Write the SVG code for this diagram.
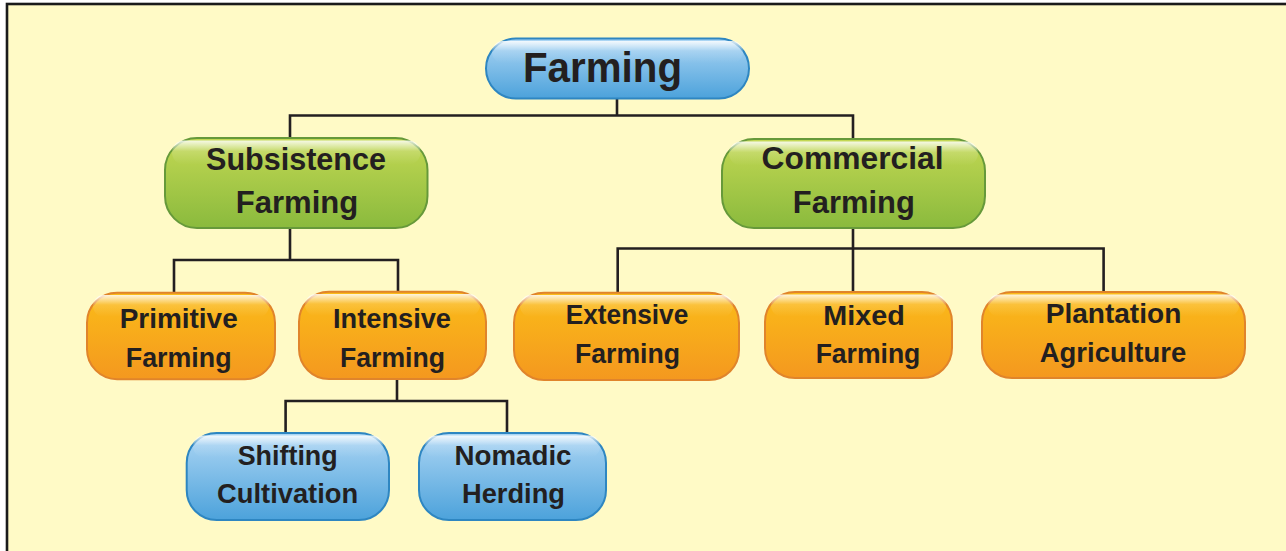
<svg xmlns="http://www.w3.org/2000/svg" width="1286" height="551" viewBox="0 0 1286 551">
<defs>
<linearGradient id="gBlue" x1="0" y1="0" x2="0" y2="1"><stop offset="0" stop-color="#ADD6F4"/><stop offset="1" stop-color="#4CA2DB"/></linearGradient>
<linearGradient id="gGreen" x1="0" y1="0" x2="0" y2="1"><stop offset="0" stop-color="#C3D853"/><stop offset="1" stop-color="#8ABA3D"/></linearGradient>
<linearGradient id="gOrange" x1="0" y1="0" x2="0" y2="1"><stop offset="0" stop-color="#FBBC18"/><stop offset="1" stop-color="#F4981F"/></linearGradient>
<linearGradient id="gGloss" x1="0" y1="0" x2="0" y2="1"><stop offset="0" stop-color="#FFFFFF" stop-opacity="0.85"/><stop offset="0.45" stop-color="#FFFFFF" stop-opacity="0.15"/><stop offset="1" stop-color="#FFFFFF" stop-opacity="0"/></linearGradient>
</defs>
<style>
.blue{fill:url(#gBlue);stroke:#2E86C1;stroke-width:2}
.green{fill:url(#gGreen);stroke:#66993A;stroke-width:2}
.orange{fill:url(#gOrange);stroke:#E0842B;stroke-width:2}
.gloss{fill:url(#gGloss);stroke:none}
text{font-family:"Liberation Sans",Arial,sans-serif;font-weight:bold;fill:#231F20;text-anchor:middle}
.t1{font-size:42px}
.t2{font-size:30.5px}
.t3{font-size:28px}
.conn{fill:none;stroke:#231F20;stroke-width:2.6}
</style>
<rect x="0" y="0" width="1286" height="551" fill="#FFFFFF"/>
<rect x="7" y="4" width="1300" height="600" fill="#FFFAC6" stroke="#1A1A1A" stroke-width="2.6"/>
<g id="connectors" class="conn">
<path d="M617,98 V115.5 M290,138 V115.5 H853 V139"/>
<path d="M290,228 V260 M174,293 V260 H398 V292"/>
<path d="M853,228 V292 M617.7,293 V248.5 H1103.6 V292"/>
<path d="M397,379 V401 M285.6,434 V401 H507 V434"/>
</g>
<g id="farming">
<rect class="blue" x="486" y="38.5" width="263" height="60" rx="30"/>
<rect class="gloss" x="492" y="41" width="251" height="22" rx="11"/>
<text class="t1" x="602.5" y="82" textLength="159" lengthAdjust="spacingAndGlyphs">Farming</text>
</g>
<g id="subsistence">
<rect class="green" x="165" y="138" width="262.5" height="90" rx="32"/>
<rect class="gloss" x="172" y="140.5" width="248.5" height="24" rx="12"/>
<text class="t2" x="296" y="170" textLength="180" lengthAdjust="spacingAndGlyphs">Subsistence</text>
<text class="t2" x="297" y="213" textLength="122.6" lengthAdjust="spacingAndGlyphs">Farming</text>
</g>
<g id="commercial">
<rect class="green" x="722" y="139" width="263" height="89" rx="32"/>
<rect class="gloss" x="729" y="141.5" width="249" height="24" rx="12"/>
<text class="t2" x="852.6" y="169" textLength="182" lengthAdjust="spacingAndGlyphs">Commercial</text>
<text class="t2" x="853.8" y="213" textLength="122" lengthAdjust="spacingAndGlyphs">Farming</text>
</g>
<g id="primitive">
<rect class="orange" x="87" y="292.7" width="188" height="86.5" rx="30"/>
<rect class="gloss" x="93" y="295" width="176" height="22" rx="11"/>
<text class="t3" x="178.7" y="328" textLength="118" lengthAdjust="spacingAndGlyphs">Primitive</text>
<text class="t3" x="178.7" y="367" textLength="105.7" lengthAdjust="spacingAndGlyphs">Farming</text>
</g>
<g id="intensive">
<rect class="orange" x="299" y="291.7" width="187" height="87.3" rx="30"/>
<rect class="gloss" x="305" y="294" width="175" height="22" rx="11"/>
<text class="t3" x="392" y="328" textLength="118" lengthAdjust="spacingAndGlyphs">Intensive</text>
<text class="t3" x="392.5" y="367" textLength="105" lengthAdjust="spacingAndGlyphs">Farming</text>
</g>
<g id="extensive">
<rect class="orange" x="514" y="292.7" width="225" height="87.3" rx="30"/>
<rect class="gloss" x="520" y="295" width="213" height="22" rx="11"/>
<text class="t3" x="627" y="324" textLength="122.6" lengthAdjust="spacingAndGlyphs">Extensive</text>
<text class="t3" x="627.5" y="363" textLength="105" lengthAdjust="spacingAndGlyphs">Farming</text>
</g>
<g id="mixed">
<rect class="orange" x="765" y="292" width="187" height="86" rx="30"/>
<rect class="gloss" x="771" y="294.5" width="175" height="22" rx="11"/>
<text class="t3" x="864" y="325" textLength="81.5" lengthAdjust="spacingAndGlyphs">Mixed</text>
<text class="t3" x="868" y="363" textLength="104.7" lengthAdjust="spacingAndGlyphs">Farming</text>
</g>
<g id="plantation">
<rect class="orange" x="982" y="292" width="263" height="86" rx="30"/>
<rect class="gloss" x="988" y="294.5" width="251" height="22" rx="11"/>
<text class="t3" x="1113.5" y="323" textLength="135.6" lengthAdjust="spacingAndGlyphs">Plantation</text>
<text class="t3" x="1113" y="362" textLength="146.5" lengthAdjust="spacingAndGlyphs">Agriculture</text>
</g>
<g id="shifting">
<rect class="blue" x="186.7" y="433" width="202.3" height="87" rx="30"/>
<rect class="gloss" x="193" y="435.5" width="190" height="22" rx="11"/>
<text class="t3" x="287.7" y="465" textLength="100" lengthAdjust="spacingAndGlyphs">Shifting</text>
<text class="t3" x="287.6" y="502.7" textLength="141" lengthAdjust="spacingAndGlyphs">Cultivation</text>
</g>
<g id="nomadic">
<rect class="blue" x="419" y="433" width="187" height="87" rx="30"/>
<rect class="gloss" x="425" y="435.5" width="175" height="22" rx="11"/>
<text class="t3" x="513" y="465" textLength="117" lengthAdjust="spacingAndGlyphs">Nomadic</text>
<text class="t3" x="513.5" y="503" textLength="103" lengthAdjust="spacingAndGlyphs">Herding</text>
</g>
</svg>
